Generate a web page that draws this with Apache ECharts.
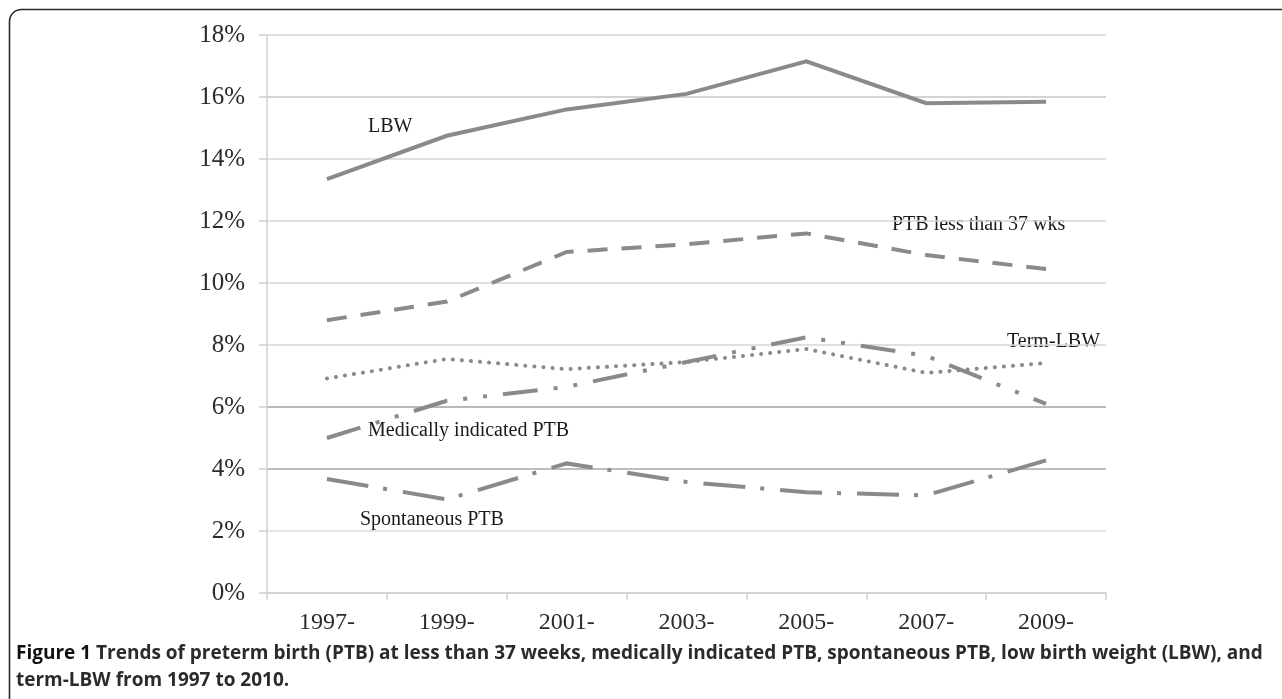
<!DOCTYPE html>
<html>
<head>
<meta charset="utf-8">
<script src="https://cdn.jsdelivr.net/npm/echarts@6/dist/echarts.min.js"></script>
<style>
html,body{margin:0;padding:0;background:#fff;}
#chart{width:1282px;height:699px;}
</style>
</head>
<body>
<div id="chart"></div>
<script>
// ---- data ----
const categories = ['1997-', '1999-', '2001-', '2003-', '2005-', '2007-', '2009-'];
const lbw = [13.35, 14.75, 15.6, 16.1, 17.15, 15.8, 15.85];
const ptb37 = [8.8, 9.4, 11.0, 11.25, 11.6, 10.9, 10.45];
const termLbw = [6.92, 7.55, 7.22, 7.45, 7.87, 7.1, 7.42];
const medicallyPtb = [5.0, 6.2, 6.65, 7.45, 8.25, 7.65, 6.1];
const spontaneousPtb = [3.68, 3.02, 4.18, 3.58, 3.25, 3.15, 4.28];
const yTicks = { min: 0, max: 18, interval: 2 };
const seriesNames = ['LBW', 'PTB less than 37 wks', 'Term-LBW', 'Medically indicated PTB', 'Spontaneous PTB'];
const captionBold = 'Figure 1';
const captionLine1 = ' Trends of preterm birth (PTB) at less than 37 weeks, medically indicated PTB, spontaneous PTB, low birth weight (LBW), and';
const captionLine2 = 'term-LBW from 1997 to 2010.';

const chart = echarts.init(document.getElementById('chart'), null, { renderer: 'canvas' });
const lineColor = '#8a8a8a';
const serif = '"Liberation Serif", "DejaVu Serif", serif';

function mk(name, data, type, cap) {
  return {
    name: name, type: 'line', data: data, symbol: 'none', smooth: false,
    silent: true, animation: false,
    lineStyle: { color: lineColor, width: 4, type: type, cap: cap || 'butt', join: 'miter' }
  };
}

const gridColors = ['#d0d0d0', '#dcdcdc', '#a9a9a9', '#a2a2a2', '#d6d6d6', '#d6d6d6', '#d6d6d6', '#d6d6d6', '#c6c6c6', '#d6d6d6'];

const labelStyle = { fontFamily: serif, fontSize: 20, fill: '#1a1a1a' };

chart.setOption({
  animation: false,
  backgroundColor: '#ffffff',
  grid: { left: 267, right: 176, top: 35, bottom: 106, containLabel: false },
  xAxis: {
    type: 'category', data: categories, boundaryGap: true,
    axisLine: { show: true, lineStyle: { color: '#cfcfcf', width: 1.5 } },
    axisTick: { show: true, length: 7, alignWithLabel: false, lineStyle: { color: '#cfcfcf', width: 1.5 } },
    axisLabel: { fontFamily: serif, fontSize: 24, color: '#2b2b2b', margin: 18 },
    splitLine: { show: false }
  },
  yAxis: {
    type: 'value', min: yTicks.min, max: yTicks.max, interval: yTicks.interval,
    axisLine: { show: true, lineStyle: { color: '#cfcfcf', width: 1.5 } },
    axisTick: { show: true, length: 8, lineStyle: { color: '#cfcfcf', width: 1.5 } },
    axisLabel: { fontFamily: serif, fontSize: 25, color: '#2b2b2b', margin: 22, formatter: '{value}%' },
    splitLine: { show: true, lineStyle: { color: gridColors, width: 1.5 } }
  },
  series: [
    mk(seriesNames[0], lbw, 'solid'),
    mk(seriesNames[1], ptb37, [20, 14]),
    mk(seriesNames[2], termLbw, [0.1, 9], 'round'),
    mk(seriesNames[3], medicallyPtb, [35, 16, 4, 16, 4, 16]),
    mk(seriesNames[4], spontaneousPtb, [42, 15, 4, 16])
  ],
  graphic: [
    { type: 'rect', shape: { x: 9.5, y: 9.5, width: 1320, height: 740, r: 12 }, style: { fill: 'none', stroke: '#2a2a2a', lineWidth: 1.6 }, silent: true, z: 100 },
    { type: 'text', left: 368, top: 117, style: Object.assign({ text: seriesNames[0] }, labelStyle), silent: true },
    { type: 'text', left: 892, top: 215, style: Object.assign({ text: seriesNames[1] }, labelStyle), silent: true },
    { type: 'text', left: 1007, top: 332, style: Object.assign({ text: seriesNames[2] }, labelStyle), silent: true },
    { type: 'text', left: 368, top: 421, style: Object.assign({ text: seriesNames[3] }, labelStyle), silent: true },
    { type: 'text', left: 360, top: 510, style: Object.assign({ text: seriesNames[4] }, labelStyle), silent: true },
    { type: 'text', left: 16, top: 644, style: {
        text: '{b|' + captionBold + '}{r|' + captionLine1 + '}\n{r|' + captionLine2 + '}',
        rich: {
          b: { fontFamily: '"Open Sans", sans-serif', fontWeight: 'bold', fontSize: 19, fill: '#111', lineHeight: 27 },
          r: { fontFamily: '"Open Sans", sans-serif', fontWeight: 'bold', fontSize: 19, fill: '#2b2b2b', lineHeight: 27 }
        }
      }, silent: true }
  ]
});
</script>
</body>
</html>
